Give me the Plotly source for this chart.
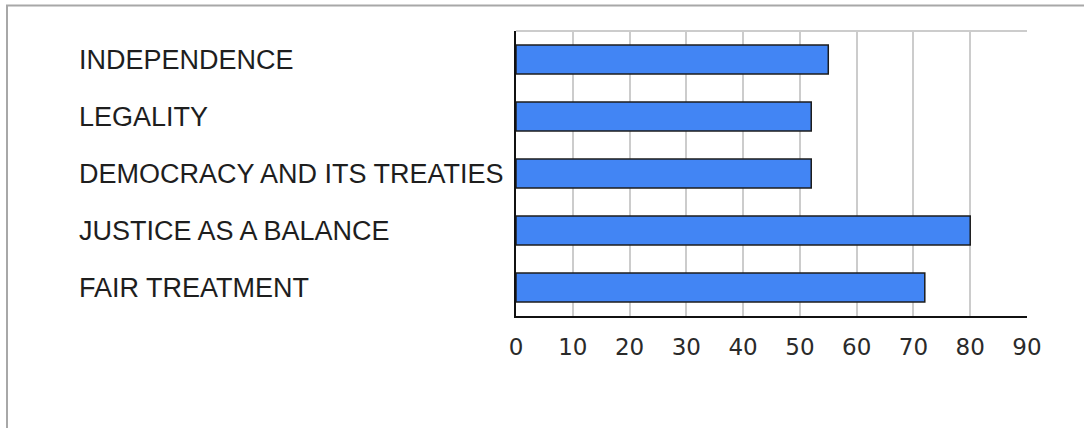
import plotly.graph_objects as go

# Data
categories = ["INDEPENDENCE", "LEGALITY", "DEMOCRACY AND ITS TREATIES",
              "JUSTICE AS A BALANCE", "FAIR TREATMENT"]
values = [55, 52, 52, 80, 72]
x_ticks = [0, 10, 20, 30, 40, 50, 60, 70, 80, 90]

W, H = 1084, 428
ML, MR, MT, MB = 516, 57, 31, 112
PW, PH = W - ML - MR, H - MT - MB


def px_x(px):
    return (px - ML) / PW


def px_y(py):
    return (H - MB - py) / PH


fig = go.Figure()
fig.add_trace(go.Bar(
    y=categories, x=values, orientation="h",
    marker=dict(color="#4285f4", line=dict(color="#1c1c1c", width=1.5)),
    showlegend=False, hoverinfo="x+y",
))

annotations = [
    dict(text=c, x=px_x(76.5), xref="paper", y=c, yref="y",
         xanchor="left", yanchor="middle", showarrow=False,
         font=dict(family="Liberation Sans, Arial", size=27, color="#1e1e1e"))
    for c in categories
]

frame = "#a8a8a8"
shapes = [
    # outer frame (top and left edges)
    dict(type="line", xref="paper", yref="paper", x0=px_x(6), x1=px_x(W + 2),
         y0=px_y(5.5), y1=px_y(5.5), line=dict(color=frame, width=2)),
    dict(type="line", xref="paper", yref="paper", x0=px_x(7), x1=px_x(7),
         y0=px_y(5), y1=px_y(H + 2), line=dict(color=frame, width=2)),
    # top edge of plot area
    dict(type="line", xref="paper", yref="paper", x0=0, x1=1, y0=1, y1=1,
         line=dict(color="#cccccc", width=2)),
]

fig.update_layout(
    width=W, height=H,
    margin=dict(l=ML, r=MR, t=MT, b=MB, pad=0),
    paper_bgcolor="white", plot_bgcolor="white",
    bargap=0.49,
    annotations=annotations,
    shapes=shapes,
    xaxis=dict(range=[0, 90], tickvals=x_ticks, ticktext=[str(t) for t in x_ticks],
               showgrid=True, gridcolor="#cccccc", gridwidth=2,
               showline=True, linecolor="#111111", linewidth=2,
               ticks="", zeroline=False,
               tickfont=dict(family="DejaVu Sans", size=23, color="#2a2a2a"),
               ticklabelstandoff=9),
    yaxis=dict(categoryorder="array", categoryarray=categories, autorange="reversed",
               showticklabels=False, showgrid=False,
               showline=True, linecolor="#111111", linewidth=2,
               ticks="", zeroline=False),
)

fig.write_html("out.html")
